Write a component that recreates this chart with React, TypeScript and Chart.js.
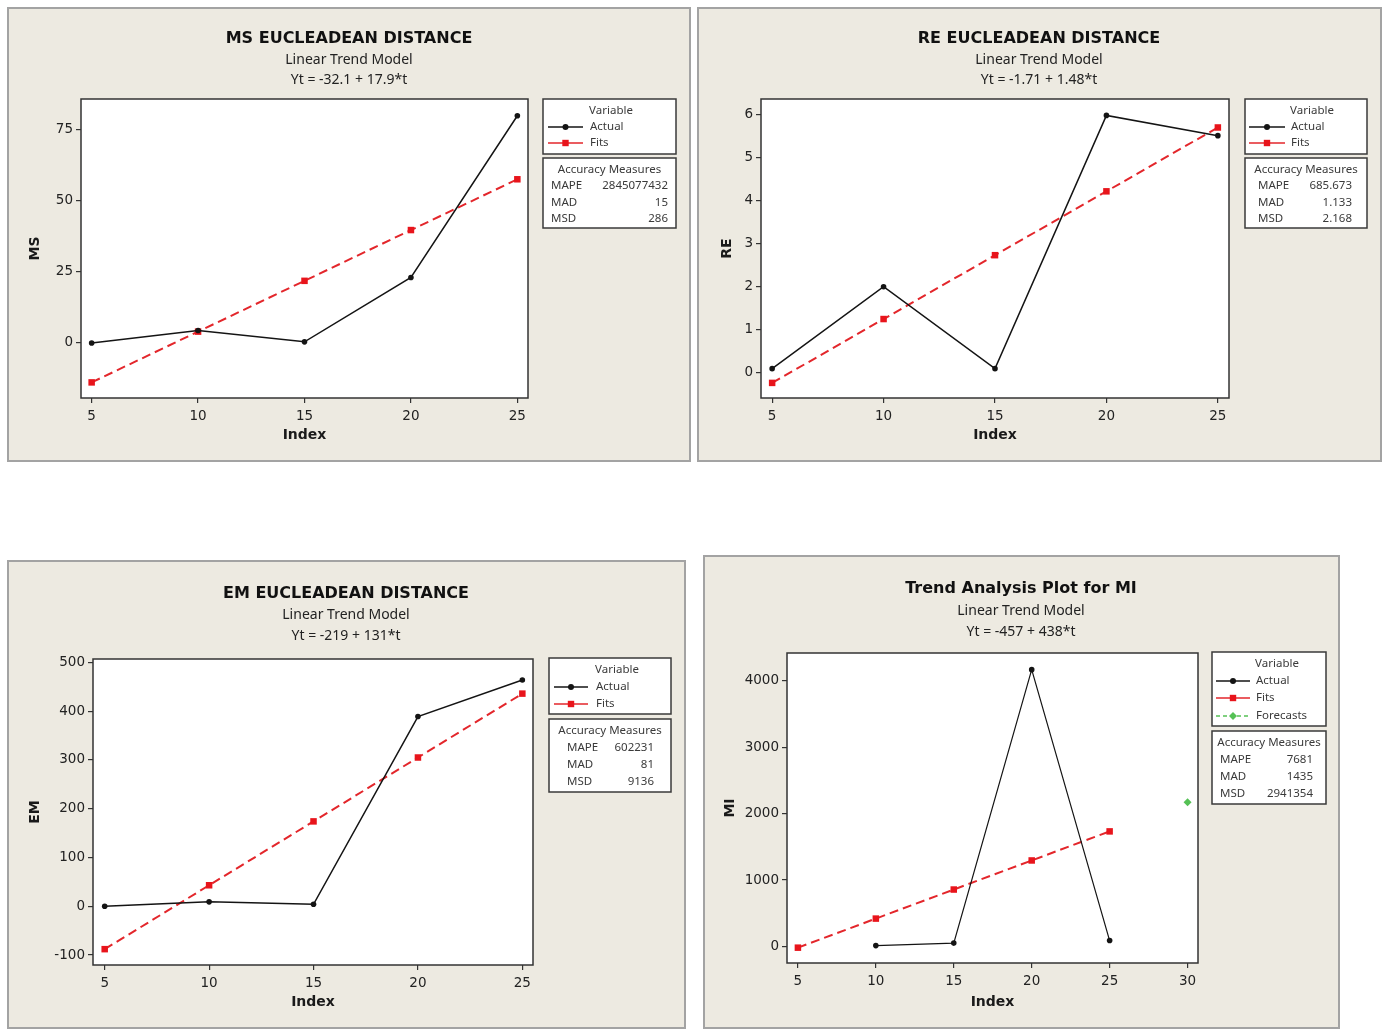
import React, { useEffect, useRef } from "react";
import { Chart, registerables } from "chart.js";

Chart.register(...registerables);

// ---------------- DATA ----------------
const INDEX = [5, 10, 15, 20, 25];
const X_TICKS = [5, 10, 15, 20, 25];
const MI_X_TICKS = [5, 10, 15, 20, 25, 30];

const MS_ACTUAL = [-0.3, 4.1, 0.1, 22.8, 79.8];
const MS_FITS = [-14.2, 3.7, 21.6, 39.5, 57.4];
const MS_Y_TICKS = [0, 25, 50, 75];
const MS_ACCURACY = ["2845077432", "15", "286"];

const RE_ACTUAL = [0.1, 2.0, 0.1, 5.97, 5.5];
const RE_FITS = [-0.23, 1.25, 2.73, 4.21, 5.69];
const RE_Y_TICKS = [0, 1, 2, 3, 4, 5, 6];
const RE_ACCURACY = ["685.673", "1.133", "2.168"];

const EM_ACTUAL = [0, 9, 4, 389, 464];
const EM_FITS = [-88, 43, 174, 305, 436];
const EM_Y_TICKS = [-100, 0, 100, 200, 300, 400, 500];
const EM_ACCURACY = ["602231", "81", "9136"];

const MI_ACTUAL: (number | null)[] = [null, 12, 50, 4170, 88];
const MI_FITS = [-19, 419, 857, 1295, 1733];
const MI_FORECAST_INDEX = [30];
const MI_FORECAST = [2171];
const MI_Y_TICKS = [0, 1000, 2000, 3000, 4000];
const MI_ACCURACY = ["7681", "1435", "2941354"];

const ACC_LABELS = ["MAPE", "MAD", "MSD"];

// ---------------- STYLE ----------------
const BG = "#EDEAE1";
const FRAME = "#A3A3A3";
const AXIS = "#333333";
const ACTUAL_COLOR = "#141414";
const FITS_COLOR = "#E3262B";
const FIT_POINT = "#E8141B";
const FORECAST_COLOR = "#55C155";
const TICK_FONT = { family: "'DejaVu Sans'", size: 13.5 };
const AXIS_TITLE_FONT = { family: "'DejaVu Sans'", size: 14, weight: "bold" as const };
const LEG_FONT = "11.5px 'Noto Sans'";

type Box = { l: number; t: number; r: number; b: number };
type PanelSpec = {
  key: string;
  panel: { x: number; y: number; w: number; h: number };
  plot: Box;
  yTitleX: number;
  xTitleY: number;
  title: string;
  sub1: string;
  sub2: string;
  titleX: number;
  titleYs: number[];
  yLabel: string;
  xMin: number;
  xMax: number;
  yMin: number;
  yMax: number;
  xTicks: number[];
  yTicks: number[];
  actual: (number | null)[];
  fits: number[];
  forecastX?: number[];
  forecast?: number[];
  accuracy: string[];
  legBox1: Box;
  legBox2: Box;
  legRows: number[];
  accRows: number[];
  legLineX: [number, number];
  legLabelX: number;
  accLabelX: number;
  accValueX: number;
  actualWidth: number;
};

const PANELS: PanelSpec[] = [
  {
    key: "ms",
    panel: { x: 7, y: 7, w: 684, h: 455 },
    plot: { l: 81, t: 99, r: 528, b: 398 },
    yTitleX: 35,
    xTitleY: 435,
    title: "MS EUCLEADEAN DISTANCE",
    sub1: "Linear Trend Model",
    sub2: "Yt = -32.1 + 17.9*t",
    titleX: 349,
    titleYs: [39, 60, 80],
    yLabel: "MS",
    xMin: 4.5,
    xMax: 25.5,
    yMin: -19.7,
    yMax: 85.7,
    xTicks: X_TICKS,
    yTicks: MS_Y_TICKS,
    actual: MS_ACTUAL,
    fits: MS_FITS,
    accuracy: MS_ACCURACY,
    legBox1: { l: 543, t: 99, r: 676, b: 154 },
    legBox2: { l: 543, t: 158, r: 676, b: 228 },
    legRows: [111, 127, 143],
    accRows: [170, 186, 203, 219],
    legLineX: [548, 583],
    legLabelX: 590,
    accLabelX: 551,
    accValueX: 668,
    actualWidth: 1.5,
  },
  {
    key: "re",
    panel: { x: 697, y: 7, w: 685, h: 455 },
    plot: { l: 761, t: 99, r: 1229, b: 398 },
    yTitleX: 727,
    xTitleY: 435,
    title: "RE EUCLEADEAN DISTANCE",
    sub1: "Linear Trend Model",
    sub2: "Yt = -1.71 + 1.48*t",
    titleX: 1039,
    titleYs: [39, 60, 80],
    yLabel: "RE",
    xMin: 4.5,
    xMax: 25.5,
    yMin: -0.58,
    yMax: 6.35,
    xTicks: X_TICKS,
    yTicks: RE_Y_TICKS,
    actual: RE_ACTUAL,
    fits: RE_FITS,
    accuracy: RE_ACCURACY,
    legBox1: { l: 1245, t: 99, r: 1367, b: 154 },
    legBox2: { l: 1245, t: 158, r: 1367, b: 228 },
    legRows: [111, 127, 143],
    accRows: [170, 186, 203, 219],
    legLineX: [1249, 1285],
    legLabelX: 1291,
    accLabelX: 1258,
    accValueX: 1352,
    actualWidth: 1.5,
  },
  {
    key: "em",
    panel: { x: 7, y: 560, w: 679, h: 469 },
    plot: { l: 93, t: 659, r: 533, b: 965 },
    yTitleX: 35,
    xTitleY: 1002,
    title: "EM EUCLEADEAN DISTANCE",
    sub1: "Linear Trend Model",
    sub2: "Yt = -219 + 131*t",
    titleX: 346,
    titleYs: [594, 615, 636],
    yLabel: "EM",
    xMin: 4.44,
    xMax: 25.51,
    yMin: -120.5,
    yMax: 507,
    xTicks: X_TICKS,
    yTicks: EM_Y_TICKS,
    actual: EM_ACTUAL,
    fits: EM_FITS,
    accuracy: EM_ACCURACY,
    legBox1: { l: 549, t: 658, r: 671, b: 714 },
    legBox2: { l: 549, t: 719, r: 671, b: 792 },
    legRows: [670, 687, 704],
    accRows: [731, 748, 765, 782],
    legLineX: [554, 588],
    legLabelX: 596,
    accLabelX: 567,
    accValueX: 654,
    actualWidth: 1.5,
  },
  {
    key: "mi",
    panel: { x: 703, y: 555, w: 637, h: 474 },
    plot: { l: 787, t: 653, r: 1198, b: 963 },
    yTitleX: 730,
    xTitleY: 1002,
    title: "Trend Analysis Plot for MI",
    sub1: "Linear Trend Model",
    sub2: "Yt = -457 + 438*t",
    titleX: 1021,
    titleYs: [589, 611, 632],
    yLabel: "MI",
    xMin: 4.3,
    xMax: 30.67,
    yMin: -250,
    yMax: 4421,
    xTicks: MI_X_TICKS,
    yTicks: MI_Y_TICKS,
    actual: MI_ACTUAL,
    fits: MI_FITS,
    forecastX: MI_FORECAST_INDEX,
    forecast: MI_FORECAST,
    accuracy: MI_ACCURACY,
    legBox1: { l: 1212, t: 652, r: 1326, b: 726 },
    legBox2: { l: 1212, t: 731, r: 1326, b: 804 },
    legRows: [664, 681, 698, 716],
    accRows: [743, 760, 777, 794],
    legLineX: [1216, 1250],
    legLabelX: 1256,
    accLabelX: 1220,
    accValueX: 1313,
    actualWidth: 1.2,
  },
];

function drawMarker(ctx: CanvasRenderingContext2D, kind: string, x: number, y: number, color: string) {
  ctx.fillStyle = color;
  ctx.beginPath();
  if (kind === "circle") {
    ctx.arc(x, y, 3, 0, Math.PI * 2);
  } else if (kind === "rect") {
    ctx.rect(x - 3.2, y - 3.2, 6.4, 6.4);
  } else {
    ctx.moveTo(x, y - 4);
    ctx.lineTo(x + 4, y);
    ctx.lineTo(x, y + 4);
    ctx.lineTo(x - 4, y);
    ctx.closePath();
  }
  ctx.fill();
}

function makeDecor(s: PanelSpec) {
  const ox = s.panel.x;
  const oy = s.panel.y;
  return {
    id: "decor_" + s.key,
    beforeDraw(chart: any) {
      const ctx: CanvasRenderingContext2D = chart.ctx;
      const { width, height } = chart;
      ctx.save();
      ctx.fillStyle = BG;
      ctx.fillRect(0, 0, width, height);
      ctx.strokeStyle = FRAME;
      ctx.lineWidth = 2;
      ctx.strokeRect(1, 1, width - 2, height - 2);
      const a = chart.chartArea;
      ctx.fillStyle = "#ffffff";
      ctx.fillRect(a.left, a.top, a.right - a.left, a.bottom - a.top);
      ctx.restore();
    },
    afterDraw(chart: any) {
      const ctx: CanvasRenderingContext2D = chart.ctx;
      const a = chart.chartArea;
      ctx.save();
      ctx.strokeStyle = AXIS;
      ctx.lineWidth = 1.5;
      ctx.strokeRect(a.left, a.top, a.right - a.left, a.bottom - a.top);

      ctx.textAlign = "center";
      ctx.textBaseline = "middle";
      ctx.fillStyle = "#111";
      ctx.font = "bold 16px 'DejaVu Sans'";
      ctx.fillText(s.title, s.titleX - ox, s.titleYs[0] - oy);
      ctx.font = "14px 'Noto Sans'";
      ctx.fillStyle = "#222";
      ctx.fillText(s.sub1, s.titleX - ox, s.titleYs[1] - oy);
      ctx.fillText(s.sub2, s.titleX - ox, s.titleYs[2] - oy);

      const boxes = [s.legBox1, s.legBox2];
      for (const b of boxes) {
        ctx.fillStyle = "#ffffff";
        ctx.fillRect(b.l - ox, b.t - oy, b.r - b.l, b.b - b.t);
        ctx.strokeStyle = "#3a3a3a";
        ctx.lineWidth = 1.5;
        ctx.strokeRect(b.l - ox, b.t - oy, b.r - b.l, b.b - b.t);
      }
      ctx.font = LEG_FONT;
      ctx.fillStyle = "#3a3a3a";
      ctx.textAlign = "center";
      const legCx = s.legLabelX + 21;
      ctx.fillText("Variable", legCx - ox, s.legRows[0] - oy);
      const series = [
        { name: "Actual", color: ACTUAL_COLOR, marker: "circle", dash: [] as number[] },
        { name: "Fits", color: FITS_COLOR, marker: "rect", dash: [] as number[] },
        { name: "Forecasts", color: FORECAST_COLOR, marker: "diamond", dash: [4, 3] },
      ].slice(0, s.legRows.length - 1);
      series.forEach((it, i) => {
        const y = s.legRows[i + 1] - oy;
        const x0 = s.legLineX[0] - ox;
        const x1 = s.legLineX[1] - ox;
        ctx.strokeStyle = it.color;
        ctx.lineWidth = 1.6;
        ctx.setLineDash(it.dash);
        ctx.beginPath();
        ctx.moveTo(x0, y);
        ctx.lineTo(x1, y);
        ctx.stroke();
        ctx.setLineDash([]);
        drawMarker(ctx, it.marker, (x0 + x1) / 2, y, it.marker === "rect" ? FIT_POINT : it.color);
        ctx.fillStyle = "#3a3a3a";
        ctx.textAlign = "left";
        ctx.fillText(it.name, s.legLabelX - ox, y);
      });

      const b2 = s.legBox2;
      ctx.textAlign = "center";
      ctx.fillText("Accuracy Measures", (b2.l + b2.r) / 2 - ox, s.accRows[0] - oy);
      ACC_LABELS.forEach((lab, i) => {
        const y = s.accRows[i + 1] - oy;
        ctx.textAlign = "left";
        ctx.fillText(lab, s.accLabelX - ox, y);
        ctx.textAlign = "right";
        ctx.fillText(s.accuracy[i], s.accValueX - ox, y);
      });
      ctx.restore();
    },
  };
}

function buildConfig(s: PanelSpec): any {
  const { panel, plot } = s;
  const half = (14 * 1.2) / 2;
  const padLeft = s.yTitleX - panel.x - half;
  const yW = plot.l - panel.x - padLeft;
  const padTop = plot.t - panel.y;
  const padRight = panel.x + panel.w - plot.r;
  const xBottomLocal = s.xTitleY - panel.y + half;
  const xH = xBottomLocal - (plot.b - panel.y);
  const padBottom = panel.h - xBottomLocal;

  const datasets: any[] = [
    {
      label: "Actual",
      data: INDEX.map((x, i) => ({ x, y: s.actual[i] })),
      borderColor: ACTUAL_COLOR,
      backgroundColor: ACTUAL_COLOR,
      borderWidth: s.actualWidth,
      pointRadius: 2.8,
      pointBorderWidth: 0,
      pointBackgroundColor: ACTUAL_COLOR,
      spanGaps: false,
      tension: 0,
      order: 1,
    },
    {
      label: "Fits",
      data: INDEX.map((x, i) => ({ x, y: s.fits[i] })),
      borderColor: FITS_COLOR,
      backgroundColor: FIT_POINT,
      borderWidth: 2,
      borderDash: [9, 5],
      pointStyle: "rect",
      pointRadius: 4.6,
      pointBorderWidth: 0,
      pointBackgroundColor: FIT_POINT,
      tension: 0,
      order: 2,
    },
  ];
  if (s.forecast && s.forecastX) {
    datasets.push({
      label: "Forecasts",
      data: s.forecastX.map((x, i) => ({ x, y: s.forecast![i] })),
      showLine: false,
      pointStyle: "rectRot",
      pointRadius: 4,
      pointBorderWidth: 0,
      pointBackgroundColor: FORECAST_COLOR,
      borderColor: FORECAST_COLOR,
      order: 3,
    });
  }

  const gridOpts = {
    display: true,
    drawOnChartArea: false,
    drawTicks: true,
    tickLength: 5,
    color: AXIS,
    lineWidth: 1.2,
  };

  return {
    type: "line",
    data: { datasets },
    options: {
      responsive: false,
      animation: false,
      events: [],
      layout: { padding: { left: padLeft, right: padRight, top: padTop, bottom: padBottom } },
      plugins: { legend: { display: false }, tooltip: { enabled: false }, title: { display: false } },
      scales: {
        x: {
          type: "linear",
          min: s.xMin,
          max: s.xMax,
          afterBuildTicks: (sc: any) => {
            sc.ticks = s.xTicks.map((v) => ({ value: v }));
          },
          afterFit: (sc: any) => {
            sc.height = xH;
          },
          grid: gridOpts,
          border: { display: false },
          ticks: {
            font: TICK_FONT,
            color: "#222",
            padding: 5,
            maxRotation: 0,
            autoSkip: false,
            callback: (v: any) => String(v),
          },
          title: { display: true, text: "Index", font: AXIS_TITLE_FONT, color: "#1a1a1a", padding: 0 },
        },
        y: {
          type: "linear",
          min: s.yMin,
          max: s.yMax,
          afterBuildTicks: (sc: any) => {
            sc.ticks = s.yTicks.map((v) => ({ value: v }));
          },
          afterFit: (sc: any) => {
            sc.width = yW;
          },
          grid: gridOpts,
          border: { display: false },
          ticks: {
            font: TICK_FONT,
            color: "#222",
            padding: 3,
            autoSkip: false,
            callback: (v: any) => String(v),
          },
          title: { display: true, text: s.yLabel, font: AXIS_TITLE_FONT, color: "#1a1a1a", padding: 0 },
        },
      },
    },
    plugins: [makeDecor(s)],
  };
}

function Panel({ spec }: { spec: PanelSpec }) {
  const ref = useRef<HTMLCanvasElement | null>(null);
  useEffect(() => {
    if (!ref.current) return;
    const chart = new Chart(ref.current, buildConfig(spec));
    return () => chart.destroy();
  }, [spec]);
  return (
    <canvas
      ref={ref}
      width={spec.panel.w}
      height={spec.panel.h}
      style={{
        position: "absolute",
        left: spec.panel.x,
        top: spec.panel.y,
        width: spec.panel.w,
        height: spec.panel.h,
        display: "block",
      }}
    />
  );
}

export default function App() {
  return (
    <div
      style={{
        position: "absolute",
        left: 0,
        top: 0,
        width: 1383,
        height: 1030,
        background: "#ffffff",
        overflow: "hidden",
      }}
    >
      {PANELS.map((p) => (
        <Panel key={p.key} spec={p} />
      ))}
    </div>
  );
}
